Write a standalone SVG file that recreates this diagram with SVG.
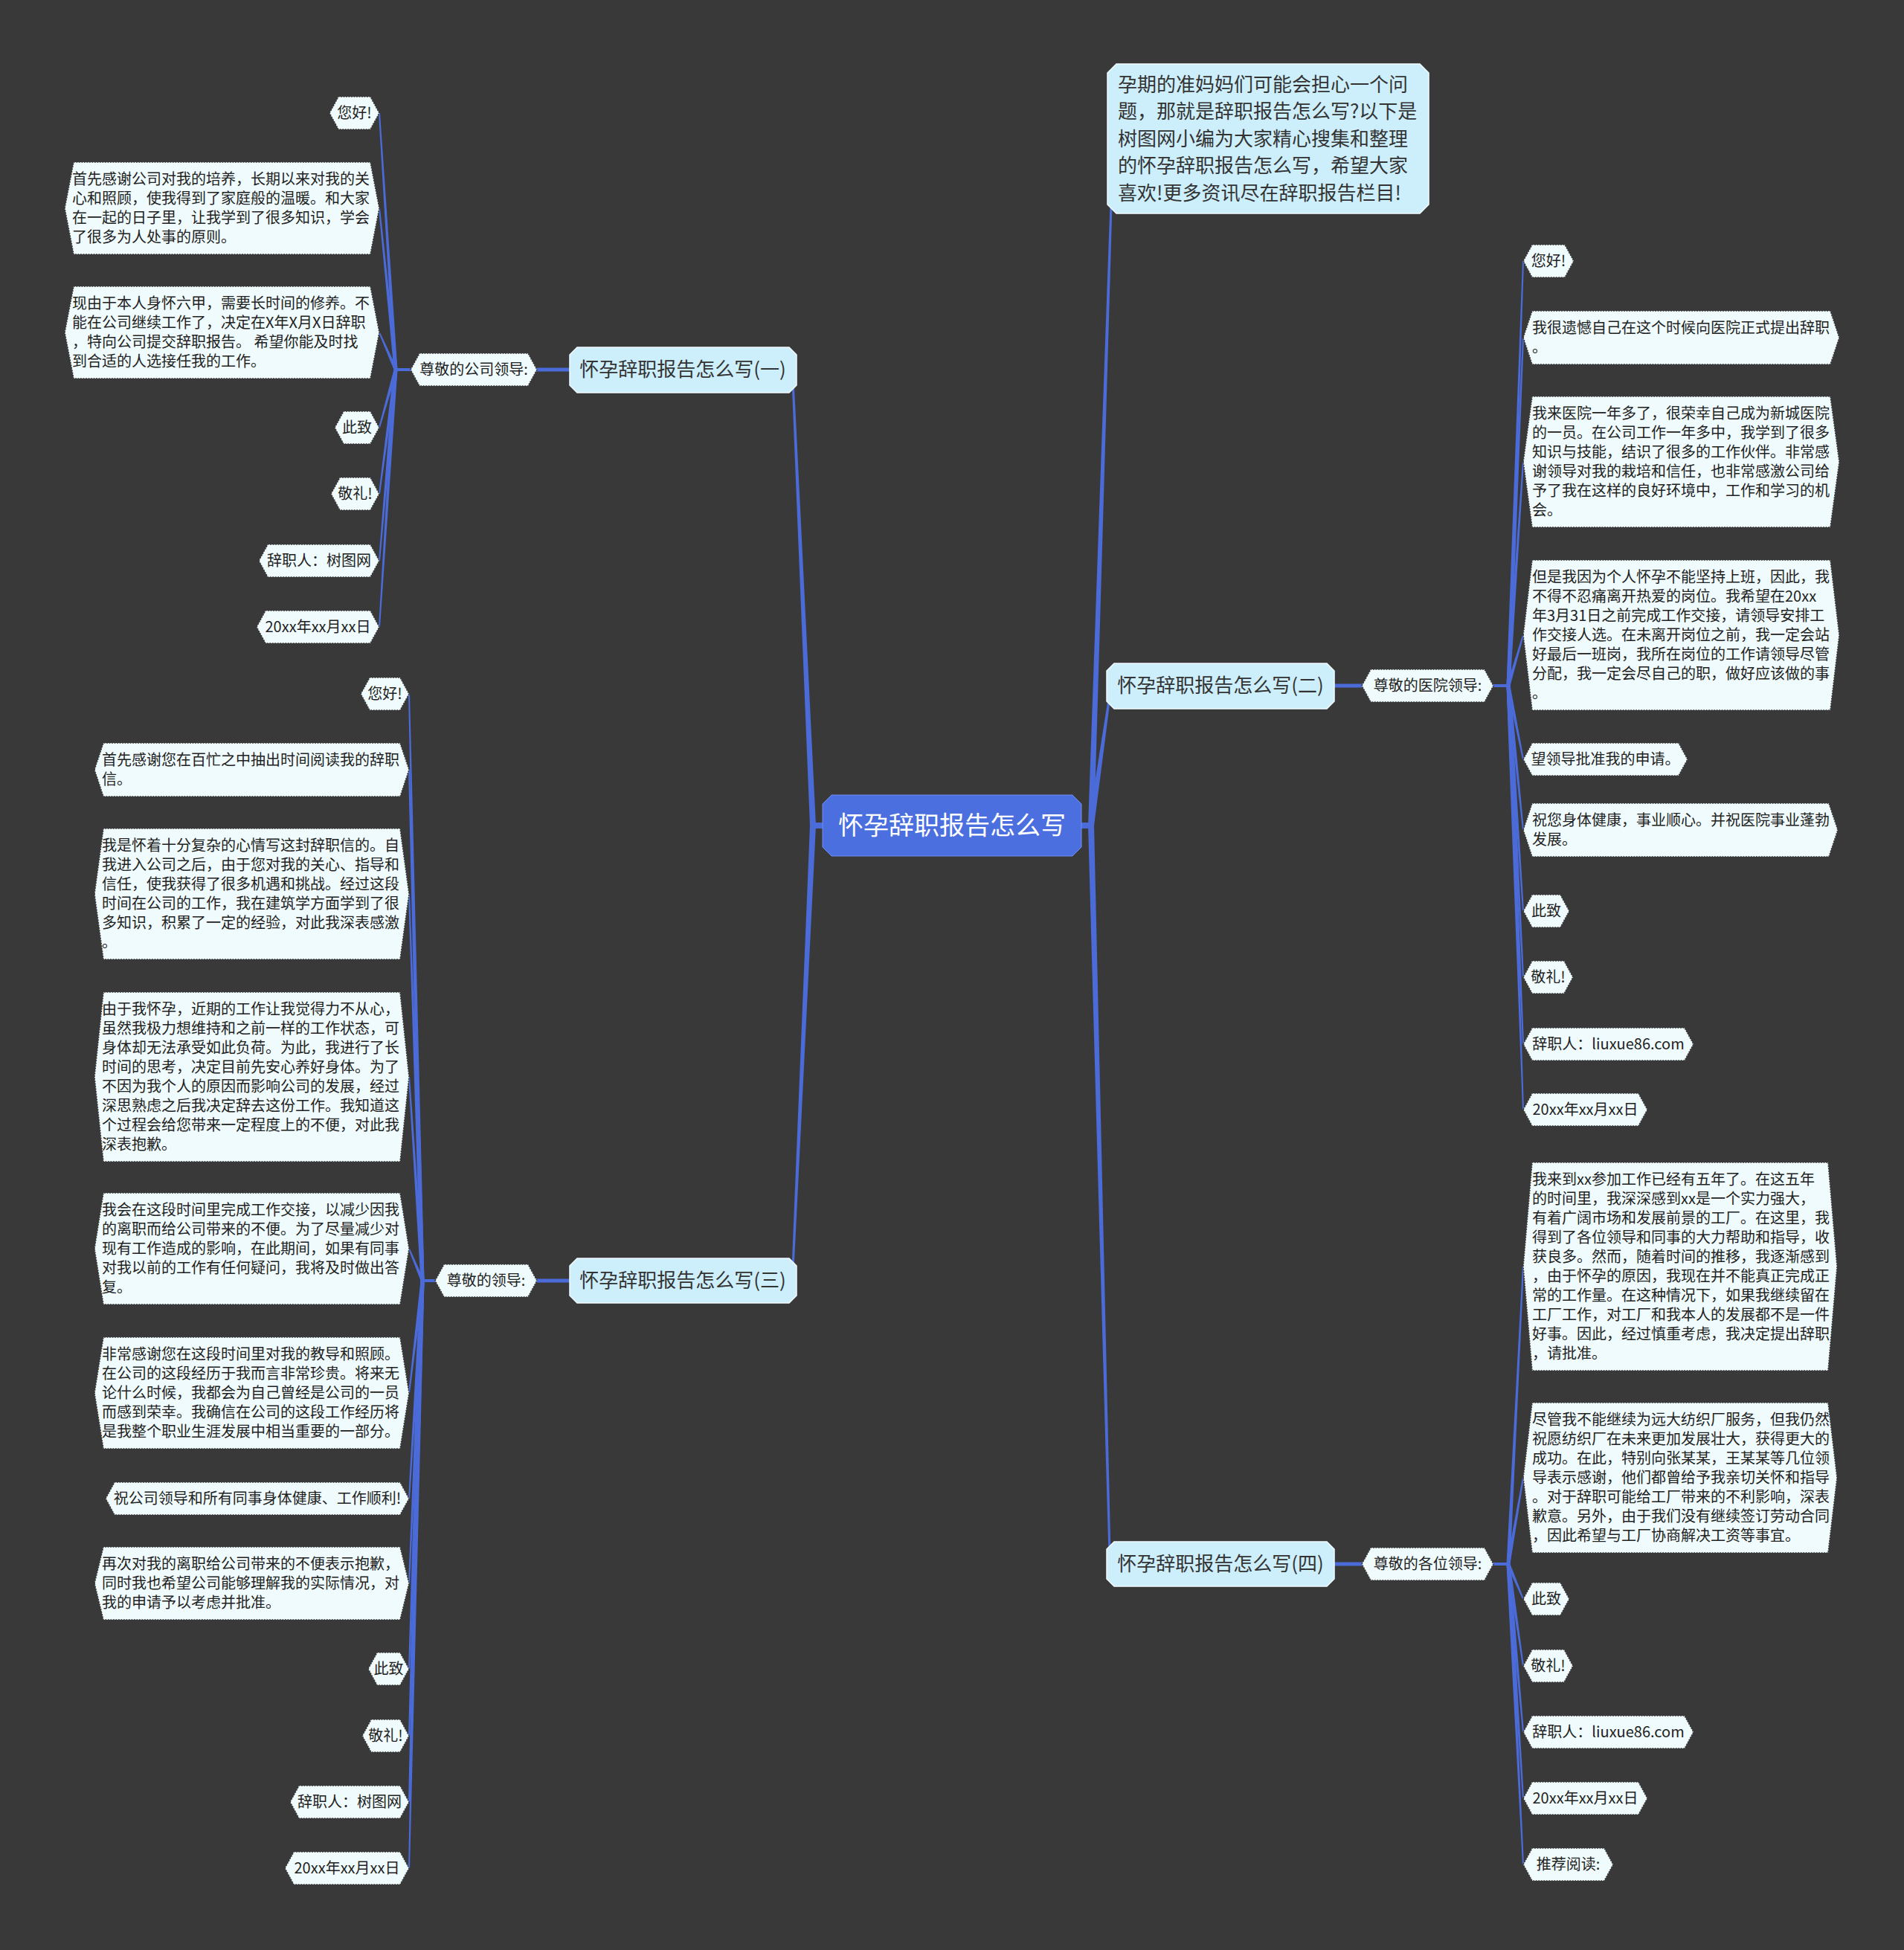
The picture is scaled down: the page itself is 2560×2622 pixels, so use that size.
<svg xmlns="http://www.w3.org/2000/svg" width="2560" height="2622" viewBox="0 0 2560 2622">
<style>
.bg{fill:#3a393a}
.ln{fill:#4b6bd9}
.leaf{fill:#effbfc;stroke:#3a3a3a;stroke-width:1.6;stroke-dasharray:2 1.5}
.br{fill:#cdeefb;stroke:#f2fbff;stroke-width:1.5}
.ctr{fill:#4c6fe0;stroke:#6f8ef0;stroke-width:1}
.t{font-family:"Noto Sans CJK SC","Noto Sans",sans-serif;font-size:20px;fill:#222}
.tm{font-family:"Noto Sans CJK SC","Noto Sans",sans-serif;font-size:20px;fill:#222;text-anchor:middle}
.tb{font-family:"Noto Sans CJK SC","Noto Sans",sans-serif;font-size:26px;fill:#333;text-anchor:middle}
.ti{font-family:"Noto Sans CJK SC","Noto Sans",sans-serif;font-size:26px;fill:#333}
.tc{font-family:"Noto Sans CJK SC","Noto Sans",sans-serif;font-size:34px;fill:#fff;text-anchor:middle}
</style>
<rect class="bg" x="0" y="0" width="2560" height="2622"/>
<g id="connectors">
<rect class="ln" x="1452" y="1106" width="18" height="8"/>
<rect class="ln" x="1090" y="1106" width="18" height="8"/>
<polygon class="ln" points="1463,1110 1492.5,275 1495.5,275 1471,1110"/>
<polygon class="ln" points="1463,1110 1490.5,935 1493.5,935 1471,1110"/>
<polygon class="ln" points="1463,1110 1490.5,2090 1493.5,2090 1471,1110"/>
<polygon class="ln" points="1089,1110 1064.5,512 1067.5,512 1097,1110"/>
<polygon class="ln" points="1089,1110 1064.5,1706 1067.5,1706 1097,1110"/>
<rect class="ln" x="720" y="494.5" width="48" height="5"/>
<rect class="ln" x="1792" y="919.5" width="41" height="5"/>
<rect class="ln" x="720" y="1719.5" width="48" height="5"/>
<rect class="ln" x="1792" y="2100.5" width="41" height="5"/>
<rect class="ln" x="530" y="495" width="24" height="4"/>
<rect class="ln" x="2006" y="920" width="24" height="4"/>
<rect class="ln" x="566" y="1720" width="21" height="4"/>
<rect class="ln" x="2006" y="2101" width="24" height="4"/>
<polygon class="ln" points="529.5,497 509,152 511,152 534.5,497"/>
<polygon class="ln" points="529.5,497 509,280 511,280 534.5,497"/>
<polygon class="ln" points="529.5,497 509,447 511,447 534.5,497"/>
<polygon class="ln" points="529.5,497 509,575 511,575 534.5,497"/>
<polygon class="ln" points="529.5,497 509,664 511,664 534.5,497"/>
<polygon class="ln" points="529.5,497 509,754 511,754 534.5,497"/>
<polygon class="ln" points="529.5,497 509,843 511,843 534.5,497"/>
<polygon class="ln" points="565.5,1722 549,933 551,933 570.5,1722"/>
<polygon class="ln" points="565.5,1722 549,1035 551,1035 570.5,1722"/>
<polygon class="ln" points="565.5,1722 549,1202 551,1202 570.5,1722"/>
<polygon class="ln" points="565.5,1722 549,1448 551,1448 570.5,1722"/>
<polygon class="ln" points="565.5,1722 549,1679 551,1679 570.5,1722"/>
<polygon class="ln" points="565.5,1722 549,1873 551,1873 570.5,1722"/>
<polygon class="ln" points="565.5,1722 549,2015 551,2015 570.5,1722"/>
<polygon class="ln" points="565.5,1722 549,2129 551,2129 570.5,1722"/>
<polygon class="ln" points="565.5,1722 549,2244 551,2244 570.5,1722"/>
<polygon class="ln" points="565.5,1722 549,2334 551,2334 570.5,1722"/>
<polygon class="ln" points="565.5,1722 549,2423 551,2423 570.5,1722"/>
<polygon class="ln" points="565.5,1722 549,2512 551,2512 570.5,1722"/>
<polygon class="ln" points="2025.5,922 2047,351 2049,351 2030.5,922"/>
<polygon class="ln" points="2025.5,922 2047,454 2049,454 2030.5,922"/>
<polygon class="ln" points="2025.5,922 2047,621 2049,621 2030.5,922"/>
<polygon class="ln" points="2025.5,922 2047,854 2049,854 2030.5,922"/>
<polygon class="ln" points="2025.5,922 2047,1021 2049,1021 2030.5,922"/>
<polygon class="ln" points="2025.5,922 2047,1116 2049,1116 2030.5,922"/>
<polygon class="ln" points="2025.5,922 2047,1225 2049,1225 2030.5,922"/>
<polygon class="ln" points="2025.5,922 2047,1314 2049,1314 2030.5,922"/>
<polygon class="ln" points="2025.5,922 2047,1404 2049,1404 2030.5,922"/>
<polygon class="ln" points="2025.5,922 2047,1492 2049,1492 2030.5,922"/>
<polygon class="ln" points="2025.5,2103 2047,1703 2049,1703 2030.5,2103"/>
<polygon class="ln" points="2025.5,2103 2047,1987 2049,1987 2030.5,2103"/>
<polygon class="ln" points="2025.5,2103 2047,2150 2049,2150 2030.5,2103"/>
<polygon class="ln" points="2025.5,2103 2047,2240 2049,2240 2030.5,2103"/>
<polygon class="ln" points="2025.5,2103 2047,2329 2049,2329 2030.5,2103"/>
<polygon class="ln" points="2025.5,2103 2047,2418 2049,2418 2030.5,2103"/>
<polygon class="ln" points="2025.5,2103 2047,2507 2049,2507 2030.5,2103"/>
</g>

<g id="center">
<polygon class="ctr" points="1118,1069 1442,1069 1454,1081 1454,1139 1442,1151 1118,1151 1106,1139 1106,1081"/>
<text class="tc" x="1280" y="1122">怀孕辞职报告怎么写</text>
</g>

<g id="intro">
<polygon class="br" points="1501,86 1909,86 1921,98 1921,275 1909,287 1501,287 1489,275 1489,98"/>
<text class="ti" x="1503" y="123">孕期的准妈妈们可能会担心一个问</text>
<text class="ti" x="1503" y="159">题，那就是辞职报告怎么写?以下是</text>
<text class="ti" x="1503" y="196">树图网小编为大家精心搜集和整理</text>
<text class="ti" x="1503" y="232">的怀孕辞职报告怎么写，希望大家</text>
<text class="ti" x="1503" y="269">喜欢!更多资讯尽在辞职报告栏目!</text>
</g>

<g id="branch1">
<polygon class="br" points="776,467 1061,467 1071,477 1071,518 1061,528 776,528 766,518 766,477"/>
<text class="tb" x="918" y="506">怀孕辞职报告怎么写(一)</text>
</g>
<g id="branch2">
<polygon class="br" points="1498,892 1784,892 1794,902 1794,943 1784,953 1498,953 1488,943 1488,902"/>
<text class="tb" x="1641" y="931">怀孕辞职报告怎么写(二)</text>
</g>
<g id="branch3">
<polygon class="br" points="776,1692 1061,1692 1071,1702 1071,1742 1061,1752 776,1752 766,1742 766,1702"/>
<text class="tb" x="918" y="1731">怀孕辞职报告怎么写(三)</text>
</g>
<g id="branch4">
<polygon class="br" points="1498,2073 1784,2073 1794,2083 1794,2123 1784,2133 1498,2133 1488,2123 1488,2083"/>
<text class="tb" x="1641" y="2112">怀孕辞职报告怎么写(四)</text>
</g>

<g id="sub1">
<polygon class="leaf" points="552,497 564,475 710,475 722,497 710,519 564,519"/>
<text class="tm" x="637" y="504">尊敬的公司领导:</text>
</g>
<g id="sub2">
<polygon class="leaf" points="1831,922 1843,900 1996,900 2008,922 1996,944 1843,944"/>
<text class="tm" x="1919.5" y="929">尊敬的医院领导:</text>
</g>
<g id="sub3">
<polygon class="leaf" points="585,1722 597,1700 710,1700 722,1722 710,1744 597,1744"/>
<text class="tm" x="653.5" y="1729">尊敬的领导:</text>
</g>
<g id="sub4">
<polygon class="leaf" points="1831,2103 1843,2081 1996,2081 2008,2103 1996,2125 1843,2125"/>
<text class="tm" x="1919.5" y="2110">尊敬的各位领导:</text>
</g>

<g id="l1a"><polygon class="leaf" points="443,152 455,130 498,130 510,152 498,174 455,174"/><text class="tm" x="476.5" y="159">您好!</text></g>
<g id="l1b"><polygon class="leaf" points="87,280 99,218 498,218 510,280 498,342 99,342"/>
<text class="t" x="97" y="248">首先感谢公司对我的培养，长期以来对我的关</text>
<text class="t" x="97" y="274">心和照顾，使我得到了家庭般的温暖。和大家</text>
<text class="t" x="97" y="300">在一起的日子里，让我学到了很多知识，学会</text>
<text class="t" x="97" y="326">了很多为人处事的原则。</text></g>
<g id="l1c"><polygon class="leaf" points="87,447 99,385 498,385 510,447 498,509 99,509"/>
<text class="t" x="97" y="415">现由于本人身怀六甲，需要长时间的修养。不</text>
<text class="t" x="97" y="441">能在公司继续工作了，决定在X年X月X日辞职</text>
<text class="t" x="97" y="467">，特向公司提交辞职报告。 希望你能及时找</text>
<text class="t" x="97" y="493">到合适的人选接任我的工作。</text></g>
<g id="l1d"><polygon class="leaf" points="450,575 462,553 498,553 510,575 498,597 462,597"/><text class="tm" x="480" y="582">此致</text></g>
<g id="l1e"><polygon class="leaf" points="445,664 457,642 498,642 510,664 498,686 457,686"/><text class="tm" x="477.5" y="671">敬礼!</text></g>
<g id="l1f"><polygon class="leaf" points="348,754 360,732 498,732 510,754 498,776 360,776"/><text class="tm" x="429" y="761">辞职人：树图网</text></g>
<g id="l1g"><polygon class="leaf" points="345,843 357,821 498,821 510,843 498,865 357,865"/><text class="tm" x="427.5" y="850">20xx年xx月xx日</text></g>

<g id="l3a"><polygon class="leaf" points="485,933 497,911 538,911 550,933 538,955 497,955"/><text class="tm" x="517.5" y="940">您好!</text></g>
<g id="l3b"><polygon class="leaf" points="127,1035 139,999 538,999 550,1035 538,1071 139,1071"/>
<text class="t" x="137" y="1029">首先感谢您在百忙之中抽出时间阅读我的辞职</text>
<text class="t" x="137" y="1055">信。</text></g>
<g id="l3c"><polygon class="leaf" points="127,1202 139,1114 538,1114 550,1202 538,1290 139,1290"/>
<text class="t" x="137" y="1144">我是怀着十分复杂的心情写这封辞职信的。自</text>
<text class="t" x="137" y="1170">我进入公司之后，由于您对我的关心、指导和</text>
<text class="t" x="137" y="1196">信任，使我获得了很多机遇和挑战。经过这段</text>
<text class="t" x="137" y="1222">时间在公司的工作，我在建筑学方面学到了很</text>
<text class="t" x="137" y="1248">多知识，积累了一定的经验，对此我深表感激</text>
<text class="t" x="137" y="1274">。</text></g>
<g id="l3d"><polygon class="leaf" points="127,1448 139,1334 538,1334 550,1448 538,1562 139,1562"/>
<text class="t" x="137" y="1364">由于我怀孕，近期的工作让我觉得力不从心，</text>
<text class="t" x="137" y="1390">虽然我极力想维持和之前一样的工作状态，可</text>
<text class="t" x="137" y="1416">身体却无法承受如此负荷。为此，我进行了长</text>
<text class="t" x="137" y="1442">时间的思考，决定目前先安心养好身体。为了</text>
<text class="t" x="137" y="1468">不因为我个人的原因而影响公司的发展，经过</text>
<text class="t" x="137" y="1494">深思熟虑之后我决定辞去这份工作。我知道这</text>
<text class="t" x="137" y="1520">个过程会给您带来一定程度上的不便，对此我</text>
<text class="t" x="137" y="1546">深表抱歉。</text></g>
<g id="l3e"><polygon class="leaf" points="127,1679 139,1604 538,1604 550,1679 538,1754 139,1754"/>
<text class="t" x="137" y="1634">我会在这段时间里完成工作交接，以减少因我</text>
<text class="t" x="137" y="1660">的离职而给公司带来的不便。为了尽量减少对</text>
<text class="t" x="137" y="1686">现有工作造成的影响，在此期间，如果有同事</text>
<text class="t" x="137" y="1712">对我以前的工作有任何疑问，我将及时做出答</text>
<text class="t" x="137" y="1738">复。</text></g>
<g id="l3f"><polygon class="leaf" points="127,1873 139,1798 538,1798 550,1873 538,1948 139,1948"/>
<text class="t" x="137" y="1828">非常感谢您在这段时间里对我的教导和照顾。</text>
<text class="t" x="137" y="1854">在公司的这段经历于我而言非常珍贵。将来无</text>
<text class="t" x="137" y="1880">论什么时候，我都会为自己曾经是公司的一员</text>
<text class="t" x="137" y="1906">而感到荣幸。我确信在公司的这段工作经历将</text>
<text class="t" x="137" y="1932">是我整个职业生涯发展中相当重要的一部分。</text></g>
<g id="l3g"><polygon class="leaf" points="142,2015 154,1993 538,1993 550,2015 538,2037 154,2037"/><text class="tm" x="346" y="2022">祝公司领导和所有同事身体健康、工作顺利!</text></g>
<g id="l3h"><polygon class="leaf" points="127,2129 139,2080 538,2080 550,2129 538,2178 139,2178"/>
<text class="t" x="137" y="2110">再次对我的离职给公司带来的不便表示抱歉，</text>
<text class="t" x="137" y="2136">同时我也希望公司能够理解我的实际情况，对</text>
<text class="t" x="137" y="2162">我的申请予以考虑并批准。</text></g>
<g id="l3i"><polygon class="leaf" points="495,2244 507,2222 538,2222 550,2244 538,2266 507,2266"/><text class="tm" x="522.5" y="2251">此致</text></g>
<g id="l3j"><polygon class="leaf" points="487,2334 499,2312 538,2312 550,2334 538,2356 499,2356"/><text class="tm" x="518.5" y="2341">敬礼!</text></g>
<g id="l3k"><polygon class="leaf" points="390,2423 402,2401 538,2401 550,2423 538,2445 402,2445"/><text class="tm" x="470" y="2430">辞职人：树图网</text></g>
<g id="l3l"><polygon class="leaf" points="383,2512 395,2490 538,2490 550,2512 538,2534 395,2534"/><text class="tm" x="466.5" y="2519">20xx年xx月xx日</text></g>

<g id="r2a"><polygon class="leaf" points="2048,351 2060,329 2104,329 2116,351 2104,373 2060,373"/><text class="tm" x="2082" y="358">您好!</text></g>
<g id="r2b"><polygon class="leaf" points="2048,454 2060,418 2461,418 2473,454 2461,490 2060,490"/>
<text class="t" x="2060" y="448">我很遗憾自己在这个时候向医院正式提出辞职</text>
<text class="t" x="2060" y="474">。</text></g>
<g id="r2c"><polygon class="leaf" points="2048,621 2060,533 2461,533 2473,621 2461,709 2060,709"/>
<text class="t" x="2060" y="563">我来医院一年多了，很荣幸自己成为新城医院</text>
<text class="t" x="2060" y="589">的一员。在公司工作一年多中，我学到了很多</text>
<text class="t" x="2060" y="615">知识与技能，结识了很多的工作伙伴。非常感</text>
<text class="t" x="2060" y="641">谢领导对我的栽培和信任，也非常感激公司给</text>
<text class="t" x="2060" y="667">予了我在这样的良好环境中，工作和学习的机</text>
<text class="t" x="2060" y="693">会。</text></g>
<g id="r2d"><polygon class="leaf" points="2048,854 2060,753 2461,753 2473,854 2461,955 2060,955"/>
<text class="t" x="2060" y="783">但是我因为个人怀孕不能坚持上班，因此，我</text>
<text class="t" x="2060" y="809">不得不忍痛离开热爱的岗位。我希望在20xx</text>
<text class="t" x="2060" y="835">年3月31日之前完成工作交接，请领导安排工</text>
<text class="t" x="2060" y="861">作交接人选。在未离开岗位之前，我一定会站</text>
<text class="t" x="2060" y="887">好最后一班岗，我所在岗位的工作请领导尽管</text>
<text class="t" x="2060" y="913">分配，我一定会尽自己的职，做好应该做的事</text>
<text class="t" x="2060" y="939">。</text></g>
<g id="r2e"><polygon class="leaf" points="2048,1021 2060,999 2257,999 2269,1021 2257,1043 2060,1043"/><text class="tm" x="2158.5" y="1028">望领导批准我的申请。</text></g>
<g id="r2f"><polygon class="leaf" points="2048,1116 2060,1080 2459,1080 2471,1116 2459,1152 2060,1152"/>
<text class="t" x="2060" y="1110">祝您身体健康，事业顺心。并祝医院事业蓬勃</text>
<text class="t" x="2060" y="1136">发展。</text></g>
<g id="r2g"><polygon class="leaf" points="2048,1225 2060,1203 2098,1203 2110,1225 2098,1247 2060,1247"/><text class="tm" x="2079" y="1232">此致</text></g>
<g id="r2h"><polygon class="leaf" points="2048,1314 2060,1292 2103,1292 2115,1314 2103,1336 2060,1336"/><text class="tm" x="2081.5" y="1321">敬礼!</text></g>
<g id="r2i"><polygon class="leaf" points="2048,1404 2060,1382 2265,1382 2277,1404 2265,1426 2060,1426"/><text class="tm" x="2162.5" y="1411">辞职人：liuxue86.com</text></g>
<g id="r2j"><polygon class="leaf" points="2048,1492 2060,1470 2203,1470 2215,1492 2203,1514 2060,1514"/><text class="tm" x="2131.5" y="1499">20xx年xx月xx日</text></g>

<g id="r4a"><polygon class="leaf" points="2048,1703 2060,1563 2458,1563 2470,1703 2458,1843 2060,1843"/>
<text class="t" x="2060" y="1593">我来到xx参加工作已经有五年了。在这五年</text>
<text class="t" x="2060" y="1619">的时间里，我深深感到xx是一个实力强大，</text>
<text class="t" x="2060" y="1645">有着广阔市场和发展前景的工厂。在这里，我</text>
<text class="t" x="2060" y="1671">得到了各位领导和同事的大力帮助和指导，收</text>
<text class="t" x="2060" y="1697">获良多。然而，随着时间的推移，我逐渐感到</text>
<text class="t" x="2060" y="1723">，由于怀孕的原因，我现在并不能真正完成正</text>
<text class="t" x="2060" y="1749">常的工作量。在这种情况下，如果我继续留在</text>
<text class="t" x="2060" y="1775">工厂工作，对工厂和我本人的发展都不是一件</text>
<text class="t" x="2060" y="1801">好事。因此，经过慎重考虑，我决定提出辞职</text>
<text class="t" x="2060" y="1827">，请批准。</text></g>
<g id="r4b"><polygon class="leaf" points="2048,1987 2060,1886 2458,1886 2470,1987 2458,2088 2060,2088"/>
<text class="t" x="2060" y="1916">尽管我不能继续为远大纺织厂服务，但我仍然</text>
<text class="t" x="2060" y="1942">祝愿纺织厂在未来更加发展壮大，获得更大的</text>
<text class="t" x="2060" y="1968">成功。在此，特别向张某某，王某某等几位领</text>
<text class="t" x="2060" y="1994">导表示感谢，他们都曾给予我亲切关怀和指导</text>
<text class="t" x="2060" y="2020">。对于辞职可能给工厂带来的不利影响，深表</text>
<text class="t" x="2060" y="2046">歉意。另外，由于我们没有继续签订劳动合同</text>
<text class="t" x="2060" y="2072">，因此希望与工厂协商解决工资等事宜。</text></g>
<g id="r4c"><polygon class="leaf" points="2048,2150 2060,2128 2098,2128 2110,2150 2098,2172 2060,2172"/><text class="tm" x="2079" y="2157">此致</text></g>
<g id="r4d"><polygon class="leaf" points="2048,2240 2060,2218 2103,2218 2115,2240 2103,2262 2060,2262"/><text class="tm" x="2081.5" y="2247">敬礼!</text></g>
<g id="r4e"><polygon class="leaf" points="2048,2329 2060,2307 2265,2307 2277,2329 2265,2351 2060,2351"/><text class="tm" x="2162.5" y="2336">辞职人：liuxue86.com</text></g>
<g id="r4f"><polygon class="leaf" points="2048,2418 2060,2396 2203,2396 2215,2418 2203,2440 2060,2440"/><text class="tm" x="2131.5" y="2425">20xx年xx月xx日</text></g>
<g id="r4g"><polygon class="leaf" points="2048,2507 2060,2485 2157,2485 2169,2507 2157,2529 2060,2529"/><text class="tm" x="2108.5" y="2514">推荐阅读:</text></g>
</svg>
